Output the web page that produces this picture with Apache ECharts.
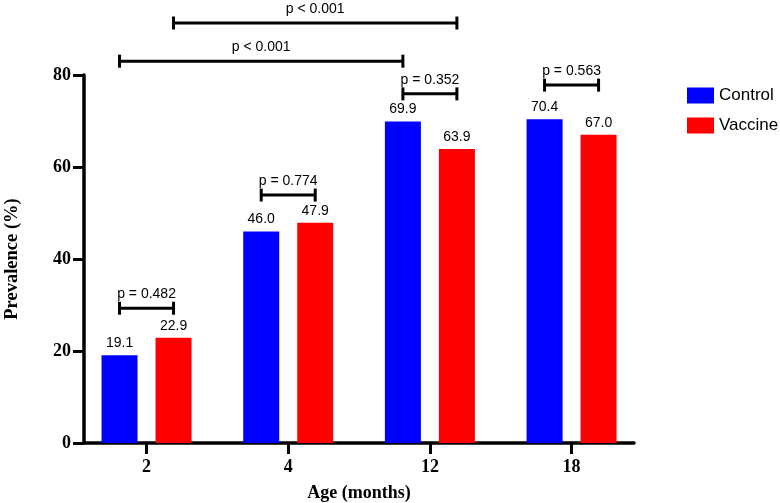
<!DOCTYPE html>
<html>
<head>
<meta charset="utf-8">
<script src="https://cdn.jsdelivr.net/npm/echarts@6/dist/echarts.min.js"></script>
<style>html,body{margin:0;padding:0;background:#fff;}#chart{width:780px;height:503px;}</style>
</head>
<body>
<div id="chart"></div>
<script>
// ---- data ----
const categories = ['2', '4', '12', '18'];
const seriesNames = ['Control', 'Vaccine'];
const controlValues = [19.1, 46.0, 69.9, 70.4];
const vaccineValues = [22.9, 47.9, 63.9, 67.0];
const yTicks = [0, 20, 40, 60, 80];
// significance brackets: [fromCategory, fromSeries, toCategory, toSeries, level (y value)]
const bracketFrom = [[0, 0], [1, 0], [2, 0], [3, 0], [0, 0], [0, 1]];
const bracketTo   = [[0, 1], [1, 1], [2, 1], [3, 1], [2, 0], [2, 1]];
const bracketLevels = [29.3, 53.9, 75.9, 77.8, 83.0, 91.3];
const bracketLabels = ['p = 0.482', 'p = 0.774', 'p = 0.352', 'p = 0.563', 'p < 0.001', 'p < 0.001'];

const BAR_W = 36, BAR_GAP = 18;
const serif = 'Liberation Serif';
const sans = 'Liberation Sans';

const bracketData = bracketLevels.map((lv, i) => [bracketFrom[i][0], bracketFrom[i][1], bracketTo[i][0], bracketTo[i][1], lv, i]);

const chart = echarts.init(document.getElementById('chart'));
chart.setOption({
  animation: false,
  backgroundColor: '#fff',
  grid: [
    { left: 75.7, width: 566.7, top: 75, bottom: 60, containLabel: false, outerBoundsMode: 'none' },
    { left: 84, width: 550, top: 75, bottom: 60, containLabel: false, outerBoundsMode: 'none' }
  ],
  legend: {
    data: seriesNames,
    orient: 'vertical',
    left: 682, top: 82,
    itemWidth: 27, itemHeight: 16, itemGap: 13,
    icon: 'rect',
    textStyle: { fontFamily: sans, fontSize: 17, color: '#000' }
  },
  xAxis: [
    {
      type: 'category', gridIndex: 0, data: categories,
      axisLine: { show: false },
      axisTick: { show: true, alignWithLabel: true, length: 11, lineStyle: { color: '#000', width: 3 } },
      axisLabel: { margin: 15, color: '#000', fontFamily: serif, fontWeight: 'bold', fontSize: 18 },
      name: 'Age (months)', nameLocation: 'middle', nameGap: 41,
      nameTextStyle: { color: '#000', fontFamily: serif, fontWeight: 'bold', fontSize: 18 }
    },
    {
      type: 'value', gridIndex: 1, min: 0, max: 1,
      axisLine: { show: true, lineStyle: { color: '#000', width: 3.5 } },
      axisTick: { show: false }, axisLabel: { show: false }, splitLine: { show: false }
    }
  ],
  yAxis: [
    { type: 'value', gridIndex: 0, min: 0, max: 80, show: false },
    {
      type: 'value', gridIndex: 1, min: yTicks[0], max: yTicks[yTicks.length - 1], interval: 20,
      axisLine: { show: true, lineStyle: { color: '#000', width: 3.5 } },
      axisTick: { show: true, length: 11, lineStyle: { color: '#000', width: 3 } },
      axisLabel: { margin: 13, color: '#000', fontFamily: serif, fontWeight: 'bold', fontSize: 18 },
      splitLine: { show: false },
      name: 'Prevalence (%)', nameLocation: 'middle', nameGap: 62,
      nameTextStyle: { color: '#000', fontFamily: serif, fontWeight: 'bold', fontSize: 18.5 }
    }
  ],
  series: [
    {
      name: seriesNames[0], type: 'bar', xAxisIndex: 0, yAxisIndex: 0,
      data: controlValues, barWidth: BAR_W, barGap: (BAR_GAP / BAR_W * 100) + '%',
      itemStyle: { color: '#0000FF' },
      label: { show: true, position: 'top', distance: 5, color: '#000', fontFamily: sans, fontSize: 14, formatter: p => p.value.toFixed(1) }
    },
    {
      name: seriesNames[1], type: 'bar', xAxisIndex: 0, yAxisIndex: 0,
      data: vaccineValues, barWidth: BAR_W,
      itemStyle: { color: '#FF0000' },
      label: { show: true, position: 'top', distance: 5, color: '#000', fontFamily: sans, fontSize: 14, formatter: p => p.value.toFixed(1) }
    },
    {
      type: 'custom', xAxisIndex: 0, yAxisIndex: 0, clip: false, silent: true,
      data: bracketData,
      encode: { x: 0, y: 4 },
      renderItem: function (params, api) {
        const off = (BAR_W + BAR_GAP) / 2;
        const level = api.value(4);
        const p1 = api.coord([api.value(0), level]);
        const p2 = api.coord([api.value(2), level]);
        const x1 = p1[0] + (api.value(1) === 0 ? -off : off);
        const x2 = p2[0] + (api.value(3) === 0 ? -off : off);
        const y = p1[1];
        const ls = { stroke: '#000', lineWidth: 3 };
        return {
          type: 'group',
          children: [
            { type: 'line', shape: { x1: x1, y1: y, x2: x2, y2: y }, style: ls },
            { type: 'line', shape: { x1: x1, y1: y - 6.5, x2: x1, y2: y + 6.5 }, style: ls },
            { type: 'line', shape: { x1: x2, y1: y - 6.5, x2: x2, y2: y + 6.5 }, style: ls },
            { type: 'text', style: { x: (x1 + x2) / 2, y: y - 7, text: bracketLabels[api.value(5)], fill: '#000', font: '14px ' + sans, textAlign: 'center', textVerticalAlign: 'bottom' } }
          ]
        };
      }
    }
  ]
});
</script>
</body>
</html>
